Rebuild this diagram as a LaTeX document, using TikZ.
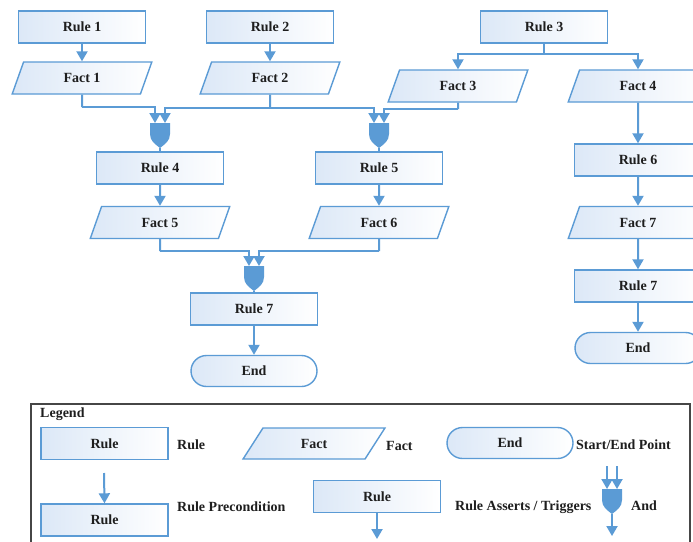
\documentclass[tikz,border=0pt]{standalone}
\usepackage{fontspec}
\setmainfont{Liberation Serif}
\usetikzlibrary{shapes.geometric,arrows.meta}
\definecolor{lb}{RGB}{91,155,213}
\definecolor{boxl}{RGB}{220,232,247}
\definecolor{txt}{RGB}{30,30,30}
\definecolor{frame}{RGB}{70,70,70}
\begin{document}
\begin{tikzpicture}[x=1pt,y=-1pt,
  every node/.style={font=\fontsize{14}{16}\selectfont\bfseries, text=txt},
  rulebox/.style={rectangle, draw=lb, line width=1.4pt, left color=boxl, right color=white,
    minimum width=127pt, minimum height=32pt, inner sep=0pt},
  factbox/.style={trapezium, trapezium left angle=69, trapezium right angle=111,
    trapezium stretches=true, draw=lb, line width=1.4pt, left color=boxl, right color=white,
    minimum width=140pt, minimum height=32pt, inner sep=0pt},
  endbox/.style={rectangle, rounded corners=15.5pt, draw=lb, line width=1.4pt, left color=boxl,
    right color=white, minimum width=126pt, minimum height=31pt, inner sep=0pt},
  lbl/.style={anchor=west, inner sep=0pt},
  conn/.style={draw=lb, line width=2pt, -{Triangle[width=11pt,length=10pt]}},
  plain/.style={draw=lb, line width=2pt},
  andgate/.pic={
    \fill[lb] (-10,0) -- (10,0) -- (10,11) .. controls (10,18) and (5,21) .. (0,25)
      .. controls (-5,21) and (-10,18) .. (-10,11) -- cycle;
    \coordinate (-top) at (0,0);
    \coordinate (-bot) at (0,25);
    \coordinate (-tl) at (-5,0);
    \coordinate (-tr) at (5,0);
  }
]
\clip (0,0) rectangle (693,541);
\fill[white] (0,0) rectangle (693,541);

% top rules and facts
\node[rulebox] (r1) at (82,27) {Rule 1};
\node[rulebox] (r2) at (270,27) {Rule 2};
\node[rulebox] (r3) at (544,27) {Rule 3};
\node[factbox] (f1) at (82,78) {Fact 1};
\node[factbox] (f2) at (270,78) {Fact 2};
\node[factbox] (f3) at (458,86) {Fact 3};
\node[factbox] (f4) at (638,86) {Fact 4};

\draw[conn] (r1) -- (f1);
\draw[conn] (r2) -- (f2);
\coordinate (j3) at (544,54);
\draw[plain] (r3.south) -- (j3);
\draw[conn] (j3) -| (f3.north);
\draw[conn] (j3) -| (f4.north);

% gates 1 and 2
\pic (g1) at (160,123) {andgate};
\pic (g2) at (379,123) {andgate};
\coordinate (j1) at (82,107);
\coordinate (j2) at (270,108);
\coordinate (j3b) at (458,109);
\draw[plain] (f1.south) -- (j1);
\draw[conn] (j1) -| (g1-tl);
\draw[plain] (f2.south) -- (j2);
\draw[conn] (j2) -| (g1-tr);
\draw[conn] (j2) -| (g2-tl);
\draw[plain] (f3.south) -- (j3b);
\draw[conn] (j3b) -| (g2-tr);

\node[rulebox] (r4) at (160,168) {Rule 4};
\node[rulebox] (r5) at (379,168) {Rule 5};
\draw[plain] (g1-bot) -- (r4.north);
\draw[plain] (g2-bot) -- (r5.north);

\node[factbox] (f5) at (160,222.5) {Fact 5};
\node[factbox] (f6) at (379,222.5) {Fact 6};
\draw[conn] (r4) -- (f5);
\draw[conn] (r5) -- (f6);

% gate 3
\pic (g3) at (254,266) {andgate};
\coordinate (j5) at (160,251);
\coordinate (j6) at (379,251);
\draw[plain] (f5.south) -- (j5);
\draw[conn] (j5) -| (g3-tl);
\draw[plain] (f6.south) -- (j6);
\draw[conn] (j6) -| (g3-tr);

\node[rulebox] (r7) at (254,309) {Rule 7};
\draw[plain] (g3-bot) -- (r7.north);
\node[endbox] (e1) at (254,371) {End};
\draw[conn] (r7) -- (e1);

% right column
\node[rulebox] (r6) at (638,160) {Rule 6};
\node[factbox] (f7) at (638,222.5) {Fact 7};
\node[rulebox] (r7b) at (638,286) {Rule 7};
\node[endbox] (e2) at (638,348) {End};
\draw[conn] (f4) -- (r6);
\draw[conn] (r6) -- (f7);
\draw[conn] (f7) -- (r7b);
\draw[conn] (r7b) -- (e2);

% legend
\draw[frame, line width=1.6pt] (31,404) rectangle (690,580);
\node[lbl] (lt) at (40,414) {Legend};
\node[rulebox] (lr1) at (104.5,443.5) {Rule};
\node[lbl] (ll1) at (177,445) {Rule};
\node[factbox, trapezium left angle=61, trapezium right angle=119, minimum width=142pt, minimum height=31pt] (lf) at (314,443.5) {Fact};
\node[lbl] (ll2) at (386,446) {Fact};
\node[endbox] (le) at (510,443) {End};
\node[lbl] (ll3) at (576,445) {Start/End Point};

\coordinate (la) at (104,473);
\node[rulebox] (lr2) at (104.5,520) {Rule};
\draw[conn] (la) -- (lr2.north);
\node[lbl] (ll4) at (177,507) {Rule Precondition};

\node[rulebox] (lr3) at (377,496.5) {Rule};
\coordinate (lb2) at (377,539);
\draw[conn] (lr3.south) -- (lb2);
\node[lbl] (ll5) at (455,507) {Rule Asserts / Triggers};

\pic (lg) at (612,489) {andgate};
\coordinate (lga) at (607,466);
\coordinate (lgb) at (617,466);
\draw[conn] (lga) -- (lg-tl);
\draw[conn] (lgb) -- (lg-tr);
\coordinate (lgc) at (612,536);
\draw[conn] (lg-bot) -- (lgc);
\node[lbl] (ll6) at (631,506) {And};
\end{tikzpicture}
\end{document}
